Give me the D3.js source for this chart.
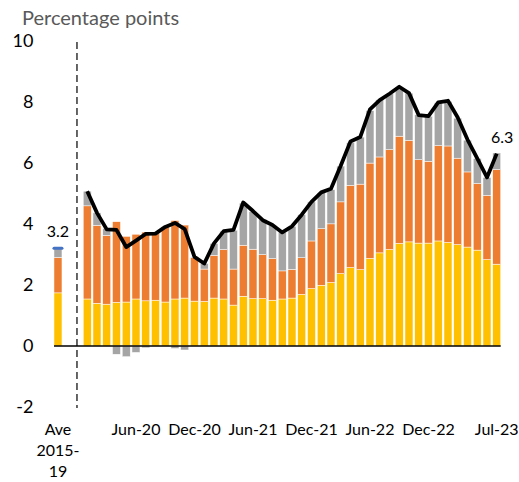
<!DOCTYPE html>
<html>
<head>
<meta charset="utf-8">
<script src="https://cdn.jsdelivr.net/npm/d3@7"></script>
<style>
body { margin: 0; background: #fff; }
text { font-family: Lato, "Liberation Sans", sans-serif; }
</style>
</head>
<body>
<div id="chart"></div>
<script>
var w = 519;
var h = 482;

// categories
var months = ["Jan-20","Feb-20","Mar-20","Apr-20","May-20","Jun-20","Jul-20","Aug-20","Sep-20","Oct-20","Nov-20","Dec-20",
              "Jan-21","Feb-21","Mar-21","Apr-21","May-21","Jun-21","Jul-21","Aug-21","Sep-21","Oct-21","Nov-21","Dec-21",
              "Jan-22","Feb-22","Mar-22","Apr-22","May-22","Jun-22","Jul-22","Aug-22","Sep-22","Oct-22","Nov-22","Dec-22",
              "Jan-23","Feb-23","Mar-23","Apr-23","May-23","Jun-23","Jul-23"];
var aveLines = ["Ave", "2015-", "19"];
var xTickLabels = ["Jun-20","Dec-20","Jun-21","Dec-21","Jun-22","Dec-22","Jul-23"];
var yTicks = [-2, 0, 2, 4, 6, 8, 10];

// average bar (yellow, orange, grey) and its total
var aveParts = [1.74, 1.16, 0.29];
var aveTotal = 3.2;

// stacked parts per month
var partYellow = [1.54,1.40,1.37,1.43,1.44,1.54,1.48,1.50,1.44,1.54,1.57,1.47,
                  1.46,1.57,1.54,1.34,1.63,1.55,1.55,1.50,1.54,1.57,1.69,1.88,
                  1.99,2.08,2.37,2.57,2.50,2.87,3.05,3.16,3.36,3.41,3.37,3.37,
                  3.44,3.39,3.32,3.24,3.14,2.83,2.68];
var partOrange = [3.05,2.55,2.25,2.64,2.15,2.12,2.25,2.20,2.46,2.57,2.39,1.43,
                  1.06,1.40,1.62,1.18,1.67,1.62,1.44,1.36,0.92,0.94,1.20,1.56,
                  1.85,1.92,2.35,2.69,2.80,3.12,3.14,3.27,3.51,3.32,2.73,2.68,
                  3.12,3.16,2.83,2.46,2.18,2.10,3.10];
var partGrey = [0.48,0.41,0.23,-0.27,-0.35,-0.21,-0.06,0.00,0.00,-0.08,-0.13,0.02,
                0.18,0.39,0.60,1.27,1.38,1.23,1.16,1.08,1.27,1.41,1.41,1.28,
                1.18,1.12,1.17,1.40,1.54,1.72,1.87,1.83,1.58,1.55,1.47,1.47,
                1.40,1.46,1.31,1.04,0.82,0.59,0.54];
// headline line
var headline = [5.07,4.36,3.82,3.80,3.24,3.45,3.67,3.68,3.90,4.03,3.83,2.92,
                2.70,3.36,3.76,3.80,4.70,4.42,4.12,3.96,3.72,3.92,4.30,4.72,
                5.03,5.15,5.90,6.70,6.84,7.75,8.05,8.26,8.49,8.28,7.56,7.53,
                7.98,8.03,7.48,6.76,6.14,5.52,6.30];

var colours = {yellow: "#FFC000", orange: "#ED7D31", grey: "#A5A5A5"};
var keys = ["yellow", "orange", "grey"];

// rows for the stack: Ave, two empty slots, then months
var rows = [{cat: "Ave", yellow: aveParts[0], orange: aveParts[1], grey: aveParts[2]},
            {cat: "gap1", yellow: 0, orange: 0, grey: 0},
            {cat: "gap2", yellow: 0, orange: 0, grey: 0}];
months.forEach(function(m, i) {
  rows.push({cat: m, yellow: partYellow[i], orange: partOrange[i], grey: partGrey[i]});
});

var svg = d3.select("#chart")
            .append("svg")
            .attr("width", w)
            .attr("height", h);

var xScale = d3.scaleBand()
               .domain(rows.map(function(d) { return d.cat; }))
               .range([53.1, 501.6])
               .paddingInner(0.18)
               .paddingOuter(0.09);

var yScale = d3.scaleLinear()
               .domain([-2, 10])
               .range([407.1, 40.6]);

var series = d3.stack()
               .keys(keys)
               .offset(d3.stackOffsetDiverging)(rows);

svg.append("g")
   .selectAll("g")
   .data(series)
   .enter()
   .append("g")
   .attr("fill", function(d) { return colours[d.key]; })
   .selectAll("rect")
   .data(function(d) { return d; })
   .enter()
   .append("rect")
   .attr("x", function(d) { return xScale(d.data.cat); })
   .attr("width", xScale.bandwidth())
   .attr("y", function(d) { return yScale(Math.max(d[0], d[1])); })
   .attr("height", function(d) { return Math.abs(yScale(d[0]) - yScale(d[1])); })
   .attr("stroke", "#fff")
   .attr("stroke-width", 0.5);

// zero line
svg.append("line")
   .attr("x1", xScale("Ave"))
   .attr("x2", xScale(months[months.length - 1]) + xScale.bandwidth())
   .attr("y1", yScale(0))
   .attr("y2", yScale(0))
   .attr("stroke", "#000")
   .attr("stroke-width", 1.5);

// dashed divider
var xDiv = xScale("gap2") + xScale.bandwidth() / 2 - 0.5;
svg.append("line")
   .attr("x1", xDiv)
   .attr("x2", xDiv)
   .attr("y1", yScale(10) + 1.5)
   .attr("y2", yScale(-2) + 1)
   .attr("stroke", "#000")
   .attr("stroke-width", 1.2)
   .attr("stroke-dasharray", "7,4");

// average marker
svg.append("line")
   .attr("x1", xScale("Ave"))
   .attr("x2", xScale("Ave") + xScale.bandwidth())
   .attr("y1", yScale(aveTotal))
   .attr("y2", yScale(aveTotal))
   .attr("stroke", "#4472C4")
   .attr("stroke-width", 3)
   .attr("stroke-linecap", "round");

svg.append("text")
   .attr("x", xScale("Ave") + xScale.bandwidth() / 2)
   .attr("y", yScale(aveTotal) - 11.5)
   .attr("text-anchor", "middle")
   .attr("font-size", "16px")
   .attr("fill", "#000")
   .text(aveTotal.toFixed(1));

// headline line
var line = d3.line()
             .x(function(d, i) { return xScale(months[i]) + xScale.bandwidth() / 2; })
             .y(function(d) { return yScale(d); });

svg.append("path")
   .datum(headline)
   .attr("d", line)
   .attr("fill", "none")
   .attr("stroke", "#000")
   .attr("stroke-width", 3.8)
   .attr("stroke-linejoin", "round");

var last = headline.length - 1;
svg.append("text")
   .attr("x", xScale(months[last]) + xScale.bandwidth() / 2 + 5.5)
   .attr("y", yScale(headline[last]) - 11)
   .attr("text-anchor", "middle")
   .attr("font-size", "16px")
   .attr("fill", "#000")
   .text(headline[last].toFixed(1));

// y axis
var yAxis = svg.append("g")
               .attr("transform", "translate(33.5,0)")
               .call(d3.axisLeft(yScale)
                       .tickValues(yTicks)
                       .tickSize(0)
                       .tickPadding(0)
                       .tickFormat(function(d) { return String(d); }));
yAxis.select(".domain").remove();
yAxis.selectAll("text")
     .attr("font-size", "18px")
     .attr("font-family", "Lato, 'Liberation Sans', sans-serif")
     .attr("fill", "#000");

// x axis
var xAxis = svg.append("g")
               .attr("transform", "translate(0," + yScale(-2) + ")")
               .call(d3.axisBottom(xScale)
                       .tickValues(["Ave"].concat(xTickLabels))
                       .tickSize(0)
                       .tickPadding(17));
xAxis.select(".domain").remove();
xAxis.selectAll("text")
     .attr("font-size", "16px")
     .attr("font-family", "Lato, 'Liberation Sans', sans-serif")
     .attr("fill", "#000");
xAxis.selectAll(".tick")
     .filter(function(d) { return d === "Ave"; })
     .select("text")
     .text(null)
     .selectAll("tspan")
     .data(aveLines)
     .enter()
     .append("tspan")
     .attr("x", 0)
     .attr("dy", function(d, i) { return i === 0 ? "0.71em" : "21px"; })
     .text(function(d) { return d; });

// title
svg.append("text")
   .attr("x", 22)
   .attr("y", 25)
   .attr("font-size", "20px")
   .attr("fill", "#595959")
   .text("Percentage points");
</script>
</body>
</html>
